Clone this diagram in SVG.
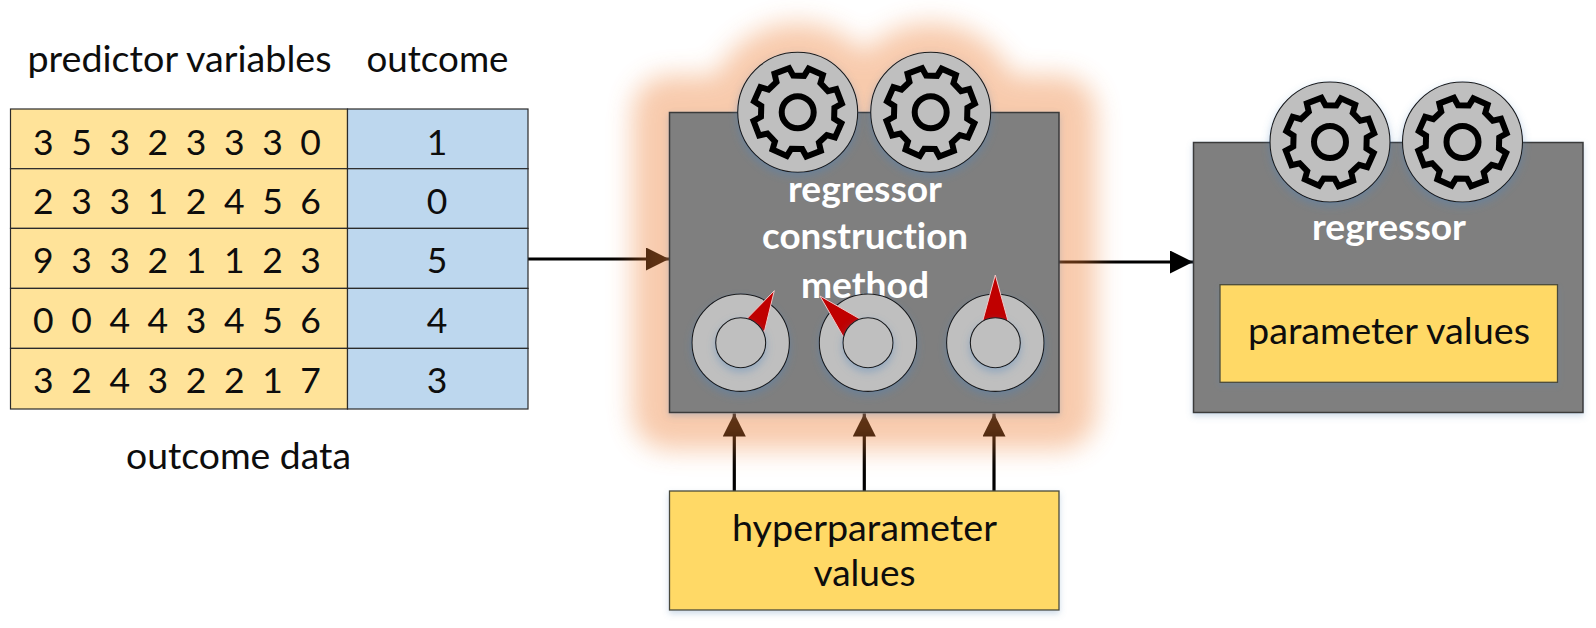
<svg xmlns="http://www.w3.org/2000/svg" width="1596" height="628" viewBox="0 0 1596 628">
<style>
text{font-family:"Lato","Open Sans","Liberation Sans",sans-serif;font-size:36.5px;fill:#0d0d0d;text-anchor:middle;font-variant-ligatures:none}
.b{font-weight:700;fill:#fff}
.d{word-spacing:8.500px;font-size:35.5px}
.o{font-size:35.5px}
.cell{stroke:#2b2b2b;stroke-width:1.2}
.y{fill:#ffe399}.c{fill:#bdd7ee}
.box{fill:#7f7f7f;stroke:#3a3a3a;stroke-width:1.5;filter:url(#sh)}
.val{fill:#ffd966;stroke:#4a4a3a;stroke-width:1.3;filter:url(#sh)}
.disc{fill:#bfbfbf;stroke:#1a1a1a;stroke-width:1.1}
.sd{filter:url(#blue)}
.gear{fill:none;stroke:#000;stroke-width:6;stroke-linejoin:miter}
.need{fill:#c00000;stroke:#f0c8c8;stroke-width:1}
.ln{stroke:#000;stroke-width:3.2;fill:none}
</style>
<defs>
<filter id="sh" x="-5%" y="-5%" width="110%" height="115%"><feDropShadow dx="0" dy="3" stdDeviation="3" flood-color="#5b87b5" flood-opacity=".3"/></filter>
<filter id="blue" x="-20%" y="-20%" width="140%" height="150%"><feDropShadow dx="0" dy="4" stdDeviation="4.5" flood-color="#4d86bd" flood-opacity=".4"/></filter>
<filter id="gl" filterUnits="userSpaceOnUse" x="560" y="-40" width="600" height="560"><feGaussianBlur stdDeviation="13"/></filter>
<marker id="ah" markerUnits="userSpaceOnUse" markerWidth="24" markerHeight="24" refX="23" refY="11.5" orient="auto"><path d="M0 0L23 11.5L0 23Z" fill="#000"/></marker>
<g id="cog">
<circle class="disc" r="60"/>
<g transform="rotate(24)"><path class="gear" d="M35.9-8.95L44.32-7.81L44.32 7.81L35.9 8.95L31.71 19.06L36.86 25.82L25.82 36.86L19.06 31.71L8.95 35.9L7.81 44.32L-7.81 44.32L-8.95 35.9L-19.06 31.71L-25.82 36.86L-36.86 25.82L-31.71 19.06L-35.9 8.95L-44.32 7.81L-44.32-7.81L-35.9-8.95L-31.71-19.06L-36.86-25.82L-25.82-36.86L-19.06-31.71L-8.95-35.9L-7.81-44.32L7.81-44.32L8.95-35.9L19.06-31.71L25.82-36.86L36.86-25.82L31.71-19.06Z"/></g>
<circle class="gear" r="16"/>
</g>
<g id="dial">
<circle class="disc" r="48.7"/>
</g>
</defs>
<rect width="1596" height="628" fill="#fff"/>

<g id="connectors">
<path class="ln" d="M527 259H669" marker-end="url(#ah)"/>
<path class="ln" d="M1059 262H1193" marker-end="url(#ah)"/>
<path class="ln" d="M734.3 491V413.5" marker-end="url(#ah)"/>
<path class="ln" d="M864.3 491V413.5" marker-end="url(#ah)"/>
<path class="ln" d="M994 491V413.5" marker-end="url(#ah)"/>
</g>

<g id="glow" opacity=".4" filter="url(#gl)" fill="#ed7d31" stroke="#ed7d31" stroke-width="74" stroke-linejoin="round">
<rect x="669.5" y="112.5" width="389.5" height="300"/>
<circle cx="797.7" cy="112.3" r="52"/>
<circle cx="930.7" cy="112.3" r="52"/>
</g>

<g id="data-table">
<rect class="y cell" x="10.5" y="109" width="337" height="59.7"/>
<rect class="y cell" x="10.5" y="168.7" width="337" height="59.7"/>
<rect class="y cell" x="10.5" y="228.4" width="337" height="60"/>
<rect class="y cell" x="10.5" y="288.4" width="337" height="60"/>
<rect class="y cell" x="10.5" y="348.4" width="337" height="60.6"/>
<rect class="c cell" x="347.5" y="109" width="180.5" height="59.7"/>
<rect class="c cell" x="347.5" y="168.7" width="180.5" height="59.7"/>
<rect class="c cell" x="347.5" y="228.4" width="180.5" height="60"/>
<rect class="c cell" x="347.5" y="288.4" width="180.5" height="60"/>
<rect class="c cell" x="347.5" y="348.4" width="180.5" height="60.6"/>
<text class="d" x="177" y="155">3 5 3 2 3 3 3 0</text>
<text class="d" x="177" y="214">2 3 3 1 2 4 5 6</text>
<text class="d" x="177" y="273">9 3 3 2 1 1 2 3</text>
<text class="d" x="177" y="333">0 0 4 4 3 4 5 6</text>
<text class="d" x="177" y="393">3 2 4 3 2 2 1 7</text>
<text class="o" x="437" y="155">1</text>
<text class="o" x="437" y="214">0</text>
<text class="o" x="437" y="273">5</text>
<text class="o" x="437" y="333">4</text>
<text class="o" x="437" y="393">3</text>
<text x="179.500" y="72" textLength="304" lengthAdjust="spacingAndGlyphs">predictor variables</text>
<text x="437.500" y="72" textLength="142" lengthAdjust="spacingAndGlyphs">outcome</text>
<text x="238.500" y="469" textLength="225" lengthAdjust="spacingAndGlyphs">outcome data</text>
</g>

<g id="construction">
<rect class="box" x="669.5" y="112.5" width="389.5" height="300"/>
<text class="b" x="865" y="202" textLength="154" lengthAdjust="spacingAndGlyphs">regressor</text>
<text class="b" x="865" y="249" textLength="206" lengthAdjust="spacingAndGlyphs">construction</text>
<text class="b" x="865" y="298" textLength="128" lengthAdjust="spacingAndGlyphs">method</text>
<use class="sd" href="#cog" x="797.7" y="112.3"/>
<use class="sd" href="#cog" x="930.7" y="112.3"/>
<g id="dial1"><use class="sd" href="#dial" x="740.7" y="342.7"/><path class="need" d="M747.3 318.300L774.3 290.700L764.300 331.700Z"/><circle class="disc sd" cx="740.7" cy="342.7" r="25"/></g>
<g id="dial2"><use class="sd" href="#dial" x="868" y="342.7"/><path class="need" d="M860 319L820 296L843.300 336.700Z"/><circle class="disc sd" cx="868" cy="342.7" r="25"/></g>
<g id="dial3"><use class="sd" href="#dial" x="995.3" y="342.7"/><path class="need" d="M982.700 321L995.300 275L1008 321Z"/><circle class="disc sd" cx="995.3" cy="342.7" r="25"/></g>
</g>

<g id="hyperparameters">
<rect class="val" x="669.5" y="491" width="389.5" height="119"/>
<text x="864.500" y="541" textLength="265" lengthAdjust="spacingAndGlyphs">hyperparameter</text>
<text x="864.500" y="586" textLength="102" lengthAdjust="spacingAndGlyphs">values</text>
</g>

<g id="regressor">
<rect class="box" x="1193.5" y="142.5" width="389.500" height="270"/>
<use class="sd" href="#cog" x="1330" y="142"/>
<use class="sd" href="#cog" x="1462.500" y="142"/>
<text class="b" x="1389" y="240" textLength="154" lengthAdjust="spacingAndGlyphs">regressor</text>
</g>
<g id="parameters">
<rect class="val" x="1220" y="284.700" width="337.500" height="97.600"/>
<text x="1389" y="344" textLength="282" lengthAdjust="spacingAndGlyphs">parameter values</text>
</g>
</svg>
